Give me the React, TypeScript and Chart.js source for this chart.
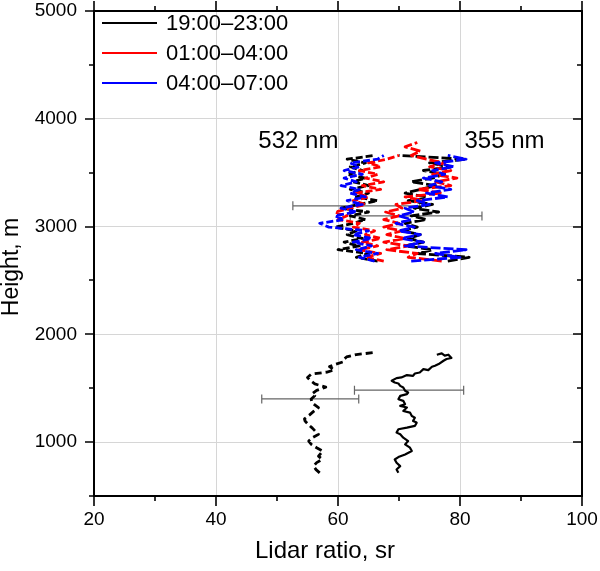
import React, { useEffect, useRef } from "react";
import { Chart, registerables } from "chart.js";

Chart.register(...registerables);

// ---------- axes ----------
const X_MIN = 20;
const X_MAX = 100;
const Y_MIN = 500;
const Y_MAX = 5000;
const xTicks = [20, 40, 60, 80, 100];
const xMinorTicks = [30, 50, 70, 90];
const yTicks = [1000, 2000, 3000, 4000, 5000];
const yMinorTicks = [500, 1500, 2500, 3500, 4500];
const xTitle = "Lidar ratio, sr";
const yTitle = "Height, m";

// ---------- legend ----------
const seriesLabels = ["19:00–23:00", "01:00–04:00", "04:00–07:00"];
const seriesColors = ["#000000", "#ff0000", "#0000ff"];

// ---------- annotations (data units) ----------
const annotationTexts = ["532 nm", "355 nm"];
const annotationX = [53.5, 87.3];
const annotationY = [3788, 3788];

// ---------- error bars ----------
const errCenters = [63.0, 72.8, 55.45, 71.65];
const errHalfWidths = [10.4, 10.8, 7.95, 8.95];
const errHeights = [3192, 3099, 1401, 1482];

// ---------- upper layer (heights, m) ----------
const upperHeights = [
  2680, 2715, 2750, 2785, 2820, 2855, 2890, 2925, 2960, 2995, 3030, 3065, 3100, 3135, 3170,
  3205, 3240, 3275, 3310, 3345, 3380, 3415, 3450, 3485, 3520, 3555, 3590, 3625, 3660,
];
const red355Heights = [
  2680, 2715, 2750, 2785, 2820, 2855, 2890, 2925, 2960, 2995, 3030, 3065, 3100, 3135, 3170,
  3205, 3240, 3275, 3310, 3345, 3380, 3415, 3450, 3485, 3520, 3555, 3590, 3625, 3660, 3700,
  3740, 3780,
];

// 532 nm, upper layer
const black532Upper = [
  66.5, 63.0, 65.0, 60.0, 63.5, 61.0, 64.0, 61.5, 63.0, 59.5, 62.5, 64.5, 62.0, 65.0, 60.5,
  63.5, 66.5, 63.0, 65.0, 62.0, 65.0, 62.5, 64.5, 61.5, 64.0, 62.0, 64.5, 61.5, 66.0,
];
const red532Upper = [
  67.5, 64.5, 67.0, 63.5, 66.5, 64.0, 67.0, 64.5, 66.0, 62.5, 63.5, 60.0, 61.5, 59.5, 62.0,
  64.5, 62.5, 65.0, 63.0, 67.0, 64.0, 67.5, 64.5, 66.5, 63.5, 67.0, 65.0, 68.0, 70.0,
];
const blue532Upper = [
  66.0, 63.5, 66.5, 63.0, 65.5, 62.5, 65.5, 62.5, 65.0, 58.5, 57.0, 61.0, 59.5, 63.0, 60.5,
  64.0, 61.5, 64.5, 62.0, 63.5, 60.5, 63.0, 61.0, 64.0, 61.0, 63.5, 62.0, 66.5, 67.5,
];

// 355 nm, upper layer
const black355Upper = [
  78.0, 81.5, 73.0, 75.5, 71.0, 74.0, 71.5, 73.5, 70.5, 73.0, 71.0, 74.5, 72.0, 76.5, 72.5,
  75.5, 71.5, 74.5, 71.0, 73.5, 76.0, 72.0, 75.5, 77.5, 74.0, 78.5, 75.0, 81.0, 70.0,
];
const red355Upper = [
  77.0, 71.5, 73.0, 68.0, 71.5, 67.5, 71.0, 68.0, 70.5, 67.5, 70.0, 67.5, 70.0, 67.8, 70.5,
  69.5, 74.0, 71.0, 77.0, 73.0, 78.5, 76.0, 79.5, 75.5, 78.5, 75.0, 77.5, 74.5, 72.0, 73.5,
  71.0, 73.0,
];
const blue355Upper = [
  72.0, 80.0, 76.0, 81.0, 71.0, 74.0, 70.5, 73.5, 70.0, 72.5, 69.5, 72.0, 70.0, 72.5, 71.0,
  75.0, 73.0, 78.0, 74.5, 78.5, 75.0, 77.0, 74.0, 77.5, 75.5, 79.0, 76.0, 81.0, 78.0,
];

// ---------- lower layer (19:00–23:00 only) ----------
const lower532Heights = [
  715, 745, 777, 810, 840, 870, 917, 948, 980, 1010, 1040, 1072, 1100, 1130, 1160, 1195, 1215,
  1250, 1285, 1320, 1345, 1370, 1400, 1430, 1450, 1480, 1500, 1510, 1540, 1570, 1600, 1630,
  1650, 1670, 1700, 1720, 1744, 1770, 1790, 1812, 1822, 1832,
];
const lower532Values = [
  57.0, 56.4, 56.0, 56.5, 57.4, 56.8, 57.5, 56.5, 55.6, 55.2, 55.8, 56.8, 56.3, 55.8, 55.2,
  54.6, 54.5, 55.3, 56.0, 56.8, 56.2, 55.7, 55.6, 56.2, 55.8, 56.5, 57.5, 58.0, 56.2, 55.5,
  55.0, 55.6, 58.2, 59.4, 58.6, 59.5, 60.8, 61.0, 61.4, 63.0, 64.5, 66.0,
];
const lower355Heights = [
  715, 746, 777, 808, 839, 861, 886, 917, 948, 979, 1010, 1041, 1072, 1088, 1119, 1134, 1150,
  1181, 1196, 1227, 1243, 1274, 1289, 1321, 1336, 1352, 1383, 1398, 1429, 1445, 1460, 1476,
  1507, 1522, 1544, 1553, 1569, 1594, 1600, 1622, 1615, 1637, 1646, 1677, 1668, 1699, 1708,
  1724, 1755, 1771, 1780, 1811, 1802, 1823, 1811,
];
const lower355Values = [
  69.9, 69.6, 70.2, 69.6, 69.3, 69.9, 71.0, 72.1, 71.8, 71.0, 71.5, 70.7, 70.2, 69.6, 69.9,
  71.3, 72.6, 72.9, 72.3, 72.6, 72.1, 71.8, 70.7, 71.3, 70.2, 71.0, 70.7, 69.9, 70.2, 71.3,
  71.5, 71.0, 70.7, 70.2, 69.9, 69.3, 68.8, 69.6, 70.4, 71.3, 72.3, 72.6, 73.4, 74.0, 74.8,
  75.4, 75.9, 76.5, 77.3, 77.8, 78.6, 78.1, 77.5, 77.0, 76.2,
];

const FONT = "'Liberation Sans', Arial, sans-serif";

function pts(heights: number[], values: number[]) {
  return heights.map((h, i) => ({ x: values[i], y: h }));
}

function line(label: string, color: string, heights: number[], values: number[], dash: number[], width = 2.8) {
  return {
    label,
    data: pts(heights, values),
    showLine: true,
    borderColor: color,
    backgroundColor: color,
    borderWidth: width,
    borderDash: dash,
    borderJoinStyle: "round",
    borderCapStyle: "butt",
    pointRadius: 0,
    tension: 0,
    fill: false,
  };
}

const dash532 = [7, 3];
const dash355 = [10, 3];

const overlayPlugin = {
  id: "overlay",
  beforeDatasetsDraw(chart: any) {
    const { ctx } = chart;
    const xs = chart.scales.x;
    const ys = chart.scales.y;
    ctx.save();
    ctx.strokeStyle = "#666666";
    ctx.lineWidth = 1.2;
    for (let i = 0; i < errCenters.length; i++) {
      const x1 = xs.getPixelForValue(errCenters[i] - errHalfWidths[i]);
      const x2 = xs.getPixelForValue(errCenters[i] + errHalfWidths[i]);
      const y = ys.getPixelForValue(errHeights[i]);
      ctx.beginPath();
      ctx.moveTo(x1, y);
      ctx.lineTo(x2, y);
      ctx.moveTo(x1, y - 4.5);
      ctx.lineTo(x1, y + 4.5);
      ctx.moveTo(x2, y - 4.5);
      ctx.lineTo(x2, y + 4.5);
      ctx.stroke();
    }
    ctx.restore();
  },
  afterDraw(chart: any) {
    const { ctx, chartArea } = chart;
    const { left, right, top, bottom } = chartArea;
    const xs = chart.scales.x;
    const ys = chart.scales.y;
    ctx.save();
    ctx.setLineDash([]);
    // frame
    ctx.strokeStyle = "#000";
    ctx.lineWidth = 2;
    ctx.strokeRect(left, top, right - left, bottom - top);
    // ticks
    ctx.lineWidth = 1.6;
    ctx.beginPath();
    const xt = (vals: number[], len: number) => {
      vals.forEach((v) => {
        const p = Math.round(xs.getPixelForValue(v));
        ctx.moveTo(p, bottom);
        ctx.lineTo(p, bottom + len);
        ctx.moveTo(p, top);
        ctx.lineTo(p, top - len);
      });
    };
    const yt = (vals: number[], len: number) => {
      vals.forEach((v) => {
        const p = Math.round(ys.getPixelForValue(v));
        ctx.moveTo(left, p);
        ctx.lineTo(left - len, p);
        ctx.moveTo(right, p);
        ctx.lineTo(right - len, p);
      });
    };
    xt(xTicks, 10);
    xt(xMinorTicks, 5);
    yt(yTicks, 9);
    yt(yMinorTicks, 5);
    ctx.stroke();

    // legend
    ctx.fillStyle = "#000";
    ctx.font = `22px ${FONT}`;
    ctx.textBaseline = "middle";
    ctx.textAlign = "left";
    seriesLabels.forEach((lab, i) => {
      const y = top + 12 + i * 30;
      ctx.strokeStyle = seriesColors[i];
      ctx.lineWidth = 2;
      ctx.beginPath();
      ctx.moveTo(left + 8, y);
      ctx.lineTo(left + 63, y);
      ctx.stroke();
      ctx.fillText(lab, left + 72, y + 1);
    });

    // annotations
    ctx.font = `24px ${FONT}`;
    ctx.textAlign = "center";
    annotationTexts.forEach((t, i) => {
      ctx.fillText(t, xs.getPixelForValue(annotationX[i]), ys.getPixelForValue(annotationY[i]));
    });

    // axis titles
    ctx.font = `24px ${FONT}`;
    ctx.fillText(xTitle, 325, 551);
    ctx.font = `23px ${FONT}`;
    ctx.save();
    ctx.translate(12, 267);
    ctx.rotate(-Math.PI / 2);
    ctx.fillText(yTitle, 0, 0);
    ctx.restore();
    ctx.restore();
  },
};

export default function App() {
  const ref = useRef<HTMLCanvasElement>(null);
  useEffect(() => {
    if (!ref.current) return;
    const chart = new Chart(ref.current, {
      type: "scatter",
      data: {
        datasets: [
          line(seriesLabels[2] + " 355", seriesColors[2], upperHeights, blue355Upper, dash355),
          line(seriesLabels[2] + " 532", seriesColors[2], upperHeights, blue532Upper, dash532),
          line(seriesLabels[1] + " 355", seriesColors[1], red355Heights, red355Upper, dash355),
          line(seriesLabels[1] + " 532", seriesColors[1], upperHeights, red532Upper, dash532),
          line(seriesLabels[0] + " 355", seriesColors[0], upperHeights, black355Upper, dash355),
          line(seriesLabels[0] + " 532", seriesColors[0], upperHeights, black532Upper, dash532),
          line(seriesLabels[0] + " 532 low", seriesColors[0], lower532Heights, lower532Values, [7, 4], 2.8),
          line(seriesLabels[0] + " 355 low", seriesColors[0], lower355Heights, lower355Values, [], 2.2),
        ] as any,
      },
      options: {
        responsive: false,
        animation: false,
        devicePixelRatio: 1,
        layout: { padding: { top: 11, right: 18, left: 0, bottom: 0 } },
        plugins: { legend: { display: false }, tooltip: { enabled: false } },
        scales: {
          x: {
            type: "linear",
            min: X_MIN,
            max: X_MAX,
            afterFit: (s: any) => {
              s.height = 75;
              s.paddingLeft = 0;
              s.paddingRight = 0;
            },
            afterBuildTicks: (s: any) => {
              s.ticks = xTicks.map((v) => ({ value: v }));
            },
            grid: { color: "#d6d6d6", lineWidth: 1, drawTicks: false },
            border: { display: false },
            ticks: {
              color: "#000",
              font: { family: FONT, size: 19 },
              padding: 12,
              maxRotation: 0,
              autoSkip: false,
              callback: (v: any) => String(v),
            },
          },
          y: {
            type: "linear",
            min: Y_MIN,
            max: Y_MAX,
            afterFit: (s: any) => {
              s.width = 94;
              s.paddingTop = 0;
              s.paddingBottom = 0;
            },
            afterBuildTicks: (s: any) => {
              s.ticks = yTicks.map((v) => ({ value: v }));
            },
            grid: { color: "#d6d6d6", lineWidth: 1, drawTicks: false },
            border: { display: false },
            ticks: {
              color: "#000",
              font: { family: FONT, size: 19 },
              padding: 17,
              autoSkip: false,
              callback: (v: any) => String(v),
            },
          },
        },
      },
      plugins: [overlayPlugin],
    });
    return () => chart.destroy();
  }, []);
  return (
    <div style={{ position: "absolute", left: 0, top: 0, width: 600, height: 571, background: "#fff" }}>
      <canvas ref={ref} width={600} height={571} style={{ display: "block" }} />
    </div>
  );
}
